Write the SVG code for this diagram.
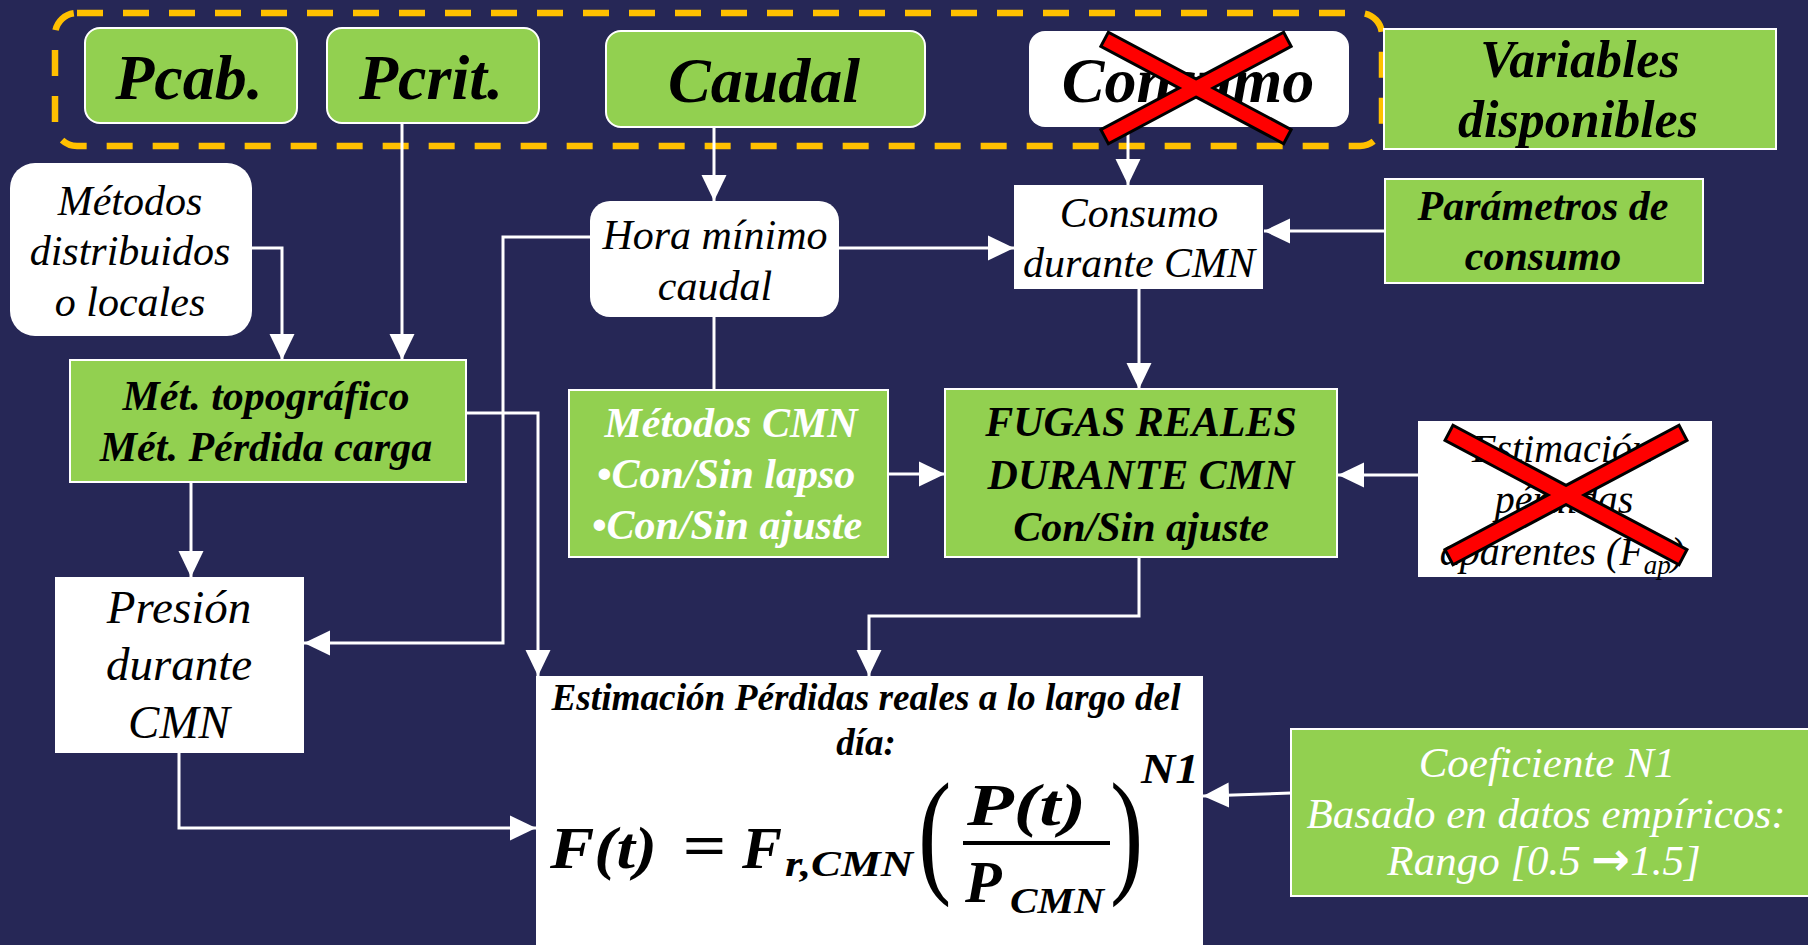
<svg xmlns="http://www.w3.org/2000/svg" width="1808" height="945" viewBox="0 0 1808 945">
  <defs>
    <style>
      .bg { fill: #262756; }
      .green { fill: #92D050; stroke: #ffffff; stroke-width: 2; }
      .white { fill: #ffffff; }
      .frame { fill: none; stroke: #FFC000; stroke-width: 6.5; stroke-dasharray: 26 20; }
      .conn { fill: none; stroke: #ffffff; stroke-width: 3; }
      .arrow { marker-end: url(#arrowhead); }
      .t { font-family: 'Liberation Serif', 'Times New Roman', serif; font-style: italic; text-anchor: middle; fill: #000000; }
      .b { font-weight: bold; }
      .w { fill: #ffffff; }
      .m { font-family: 'Liberation Serif', 'Times New Roman', serif; font-style: italic; font-weight: bold; fill: #000000; }
      .paren { font-family: 'Liberation Serif', 'Times New Roman', serif; font-size: 100px; fill: #000000; }
      .xo { fill: #000000; stroke: #000000; stroke-width: 6; }
      .xi { fill: #FF0000; }
    </style>
    <marker id="arrowhead" markerUnits="userSpaceOnUse" viewBox="0 0 26 26" markerWidth="26" markerHeight="26" refX="26" refY="13" orient="auto">
      <path d="M0,0.5 L26,13 L0,25.5 z" fill="#ffffff"/>
    </marker>
  </defs>

  <rect class="bg" x="0" y="0" width="1808" height="945"/>

  <!-- dashed frame around the available variables -->
  <g id="available-frame">
    <rect class="frame" x="55" y="13" width="1327" height="133" rx="22" ry="22"/>
  </g>

  <!-- connectors -->
  <g id="connectors">
    <path class="conn arrow" d="M252,248 H282 V360"/>
    <path class="conn arrow" d="M402,123 V360"/>
    <path class="conn arrow" d="M714,127 V201"/>
    <path class="conn arrow" d="M1128,127 V185"/>
    <path class="conn arrow" d="M839,248 H1014"/>
    <path class="conn arrow" d="M1385,231 H1264"/>
    <path class="conn arrow" d="M1139,289 V389"/>
    <path class="conn" d="M714,317 V390"/>
    <path class="conn arrow" d="M590,237 H503 V643 H304"/>
    <path class="conn arrow" d="M191,482 V577"/>
    <path class="conn arrow" d="M466,413 H538 V676"/>
    <path class="conn arrow" d="M888,474 H945"/>
    <path class="conn arrow" d="M1418,475 H1338"/>
    <path class="conn arrow" d="M1139,557 V616 H869 V676"/>
    <path class="conn arrow" d="M179,753 V828 H536"/>
    <path class="conn arrow" d="M1291,793 L1203,796"/>
  </g>

  <g id="pcab">
    <rect class="green" x="85" y="28" width="212" height="95" rx="15" ry="15"/>
    <text class="t b" x="189" y="99" font-size="64">Pcab.</text>
  </g>

  <g id="pcrit">
    <rect class="green" x="327" y="28" width="212" height="95" rx="15" ry="15"/>
    <text class="t b" x="431" y="99" font-size="64">Pcrit.</text>
  </g>

  <g id="caudal">
    <rect class="green" x="606" y="31" width="319" height="96" rx="15" ry="15"/>
    <text class="t b" x="764" y="102" font-size="64">Caudal</text>
  </g>

  <g id="consumo">
    <rect class="white" x="1029" y="31" width="320" height="96" rx="16" ry="16"/>
    <text class="t b" x="1188" y="102" font-size="64">Consumo</text>
    <g transform="translate(1196,88)">
      <rect class="xo" x="-102" y="-6.5" width="204" height="13" transform="rotate(28)"/>
      <rect class="xo" x="-102" y="-6.5" width="204" height="13" transform="rotate(-28)"/>
      <rect class="xi" x="-102" y="-6.5" width="204" height="13" transform="rotate(28)"/>
      <rect class="xi" x="-102" y="-6.5" width="204" height="13" transform="rotate(-28)"/>
    </g>
  </g>

  <g id="variables-disponibles">
    <rect class="green" x="1384" y="29" width="392" height="120"/>
    <text class="t b" x="1580" y="77" font-size="52">Variables</text>
    <text class="t b" x="1578" y="137" font-size="52">disponibles</text>
  </g>

  <g id="metodos-distribuidos">
    <rect class="white" x="10" y="163" width="242" height="173" rx="25" ry="25"/>
    <text class="t" x="130" y="215" font-size="42">Métodos</text>
    <text class="t" x="130" y="265" font-size="42">distribuidos</text>
    <text class="t" x="130" y="316" font-size="42">o locales</text>
  </g>

  <g id="hora-minimo-caudal">
    <rect class="white" x="590" y="201" width="249" height="116" rx="20" ry="20"/>
    <text class="t" x="715" y="249" font-size="42">Hora mínimo</text>
    <text class="t" x="715" y="300" font-size="42">caudal</text>
  </g>

  <g id="consumo-cmn">
    <rect class="white" x="1014" y="185" width="249" height="104"/>
    <text class="t" x="1139" y="227" font-size="42">Consumo</text>
    <text class="t" x="1139" y="277" font-size="42">durante CMN</text>
  </g>

  <g id="parametros-consumo">
    <rect class="green" x="1385" y="179" width="318" height="104"/>
    <text class="t b" x="1543" y="220" font-size="42">Parámetros de</text>
    <text class="t b" x="1543" y="270" font-size="42">consumo</text>
  </g>

  <g id="metodo-topografico">
    <rect class="green" x="70" y="360" width="396" height="122"/>
    <text class="t b" x="266" y="410" font-size="42">Mét. topográfico</text>
    <text class="t b" x="266" y="461" font-size="42">Mét. Pérdida carga</text>
  </g>

  <g id="metodos-cmn">
    <rect class="green" x="569" y="390" width="319" height="167"/>
    <text class="t b w" x="731" y="437" font-size="42">Métodos CMN</text>
    <text class="t b w" x="726" y="488" font-size="42">•Con/Sin lapso</text>
    <text class="t b w" x="727" y="539" font-size="42">•Con/Sin ajuste</text>
  </g>

  <g id="fugas-reales">
    <rect class="green" x="945" y="389" width="392" height="168"/>
    <text class="t b" x="1141" y="436" font-size="42">FUGAS REALES</text>
    <text class="t b" x="1141" y="489" font-size="42">DURANTE CMN</text>
    <text class="t b" x="1141" y="541" font-size="42">Con/Sin ajuste</text>
  </g>

  <g id="perdidas-aparentes">
    <rect class="white" x="1418" y="421" width="294" height="156"/>
    <text class="t" x="1562" y="462" font-size="40">Estimación</text>
    <text class="t" x="1564" y="513" font-size="40">pérdidas</text>
    <text class="t" x="1562" y="565" font-size="40">aparentes (F<tspan font-size="27" dy="9">ap</tspan><tspan dy="-9">)</tspan></text>
    <g transform="translate(1566,495)">
      <rect class="xo" x="-131" y="-7" width="262" height="14" transform="rotate(28)"/>
      <rect class="xo" x="-131" y="-7" width="262" height="14" transform="rotate(-28)"/>
      <rect class="xi" x="-131" y="-7" width="262" height="14" transform="rotate(28)"/>
      <rect class="xi" x="-131" y="-7" width="262" height="14" transform="rotate(-28)"/>
    </g>
  </g>

  <g id="presion-cmn">
    <rect class="white" x="55" y="577" width="249" height="176"/>
    <text class="t" x="179" y="623" font-size="47">Presión</text>
    <text class="t" x="179" y="680" font-size="47">durante</text>
    <text class="t" x="179" y="738" font-size="47">CMN</text>
  </g>

  <g id="perdidas-reales-dia">
    <rect class="white" x="536" y="676" width="667" height="275"/>
    <text class="t b" x="866" y="710" font-size="37" textLength="629" lengthAdjust="spacingAndGlyphs">Estimación Pérdidas reales a lo largo del</text>
    <text class="t b" x="866" y="755" font-size="37">día:</text>
    <!-- F(t) = F_{r,CMN} (P(t)/P_CMN)^N1 -->
    <text class="m" x="550" y="868" font-size="60" textLength="107" lengthAdjust="spacingAndGlyphs">F(t)</text>
    <text class="m" x="682" y="865" font-size="60" font-style="normal" font-weight="normal" textLength="44" lengthAdjust="spacingAndGlyphs">=</text>
    <text class="m" x="742" y="868" font-size="60">F</text>
    <text class="m" x="785" y="876" font-size="36" textLength="128" lengthAdjust="spacingAndGlyphs">r,CMN</text>
    <text class="paren" transform="translate(918,878) scale(1,1.38)">(</text>
    <text class="m" x="967" y="825" font-size="60" textLength="119" lengthAdjust="spacingAndGlyphs">P(t)</text>
    <rect x="963" y="841" width="147" height="4" fill="#000000"/>
    <text class="m" x="965" y="902" font-size="60">P</text>
    <text class="m" x="1010" y="913" font-size="36" textLength="94" lengthAdjust="spacingAndGlyphs">CMN</text>
    <text class="paren" transform="translate(1110,878) scale(1,1.38)">)</text>
    <text class="m" x="1141" y="783" font-size="42" textLength="58" lengthAdjust="spacingAndGlyphs">N1</text>
  </g>

  <g id="coeficiente-n1">
    <rect class="green" x="1291" y="729" width="520" height="167"/>
    <text class="t w" x="1547" y="777" font-size="43">Coeficiente N1</text>
    <text class="t w" x="1546" y="828" font-size="43">Basado en datos empíricos:</text>
    <text class="t w" x="1544" y="875" font-size="43">Rango [0.5 <tspan font-family="'DejaVu Sans', sans-serif" font-style="normal" font-weight="bold" font-size="46">→</tspan>1.5]</text>
  </g>
</svg>
